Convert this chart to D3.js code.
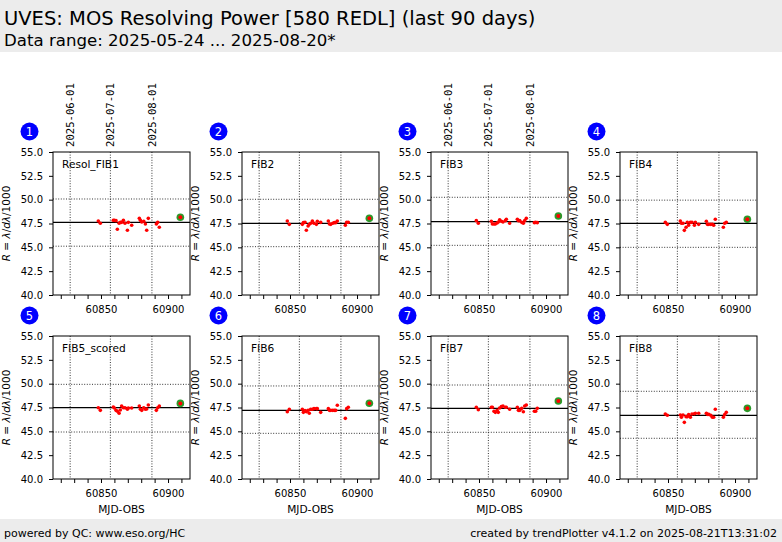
<!DOCTYPE html>
<html>
<head>
<meta charset="utf-8">
<script src="https://cdn.jsdelivr.net/npm/d3@7"></script>
<style>
  html, body { margin: 0; padding: 0; background: #fff; }
  svg { display: block; font-family: "DejaVu Sans", sans-serif; }
</style>
</head>
<body>
<svg id="chart" width="782" height="542"></svg>
<script>
// ---------------- data ----------------
const titleText = "UVES: MOS Resolving Power [580 REDL] (last 90 days)";
const subtitleText = "Data range: 2025-05-24 ... 2025-08-20*";
const footerLeft = "powered by QC: www.eso.org/HC";
const footerRight = "created by trendPlotter v4.1.2 on 2025-08-21T13:31:02";

const panelNames = ["Resol_FIB1", "FIB2", "FIB3", "FIB4", "FIB5_scored", "FIB6", "FIB7", "FIB8"];

const mjdDates = [60848.0, 60849.5, 60859.2, 60860.0, 60861.2, 60862.2, 60863.5, 60864.4,
                  60865.4, 60866.7, 60867.9, 60869.7, 60870.4, 60872.9, 60878.6, 60879.4,
                  60880.4, 60881.9, 60883.1, 60884.1, 60885.3, 60891.3, 60892.3, 60893.5];
const latestDate = 60909.2;

const fib1 = [47.76, 47.52, 47.83, 47.83, 47.80, 46.89, 47.52, 47.62, 47.62, 47.83, 47.52, 46.79,
              47.62, 47.31, 48.04, 47.83, 47.66, 47.73, 47.45, 46.79, 48.04, 47.45, 47.62, 47.10];
const fib2 = [47.76, 47.41, 47.41, 47.59, 47.62, 46.79, 47.24, 47.41, 47.52, 47.76, 47.52, 47.41,
              47.73, 47.62, 47.76, 47.45, 47.41, 47.52, 47.59, 47.59, 47.76, 47.31, 47.62, 47.62];
const fib3 = [47.80, 47.52, 47.73, 47.45, 47.45, 47.45, 47.55, 47.66, 47.90, 47.73, 47.66, 47.80,
              47.94, 47.52, 47.94, 47.80, 47.80, 47.62, 47.52, 47.80, 48.04, 47.59, 47.62, 47.59];
const fib4 = [47.62, 47.41, 47.76, 47.52, 47.52, 46.78, 47.10, 47.62, 47.31, 47.62, 47.62, 47.31,
              47.62, 47.41, 47.73, 47.41, 47.41, 47.41, 47.41, 47.31, 47.94, 47.10, 47.52, 47.62];
const fib5 = [47.48, 47.20, 47.55, 47.45, 47.20, 47.10, 46.89, 47.24, 47.66, 47.48, 47.48, 47.31,
              47.45, 47.45, 47.66, 47.31, 47.20, 47.48, 47.31, 47.35, 47.76, 47.20, 47.48, 47.66];
const fib6 = [47.06, 47.31, 47.31, 46.99, 47.17, 47.06, 47.20, 46.89, 47.31, 47.31, 47.38, 47.38,
              47.38, 46.99, 47.38, 47.20, 47.20, 47.20, 47.20, 47.20, 47.73, 46.36, 47.38, 47.52];
const fib7 = [47.52, 47.27, 47.52, 47.52, 47.10, 46.99, 47.20, 46.99, 47.45, 47.59, 47.66, 47.52,
              47.52, 47.31, 47.52, 47.20, 47.20, 47.41, 47.06, 47.66, 47.76, 47.10, 47.10, 47.41];
const fib8 = [46.82, 46.68, 46.71, 46.47, 46.71, 45.94, 46.54, 46.54, 46.75, 46.47, 46.82, 46.85,
              46.89, 46.89, 46.89, 46.78, 46.78, 46.68, 46.47, 46.47, 47.31, 46.47, 46.75, 46.99];
const seriesValues = [fib1, fib2, fib3, fib4, fib5, fib6, fib7, fib8];

const latestValues = [48.15, 48.04, 48.29, 47.94, 47.93, 47.94, 48.18, 47.41];
const refMid   = [47.62, 47.52, 47.69, 47.52, 47.48, 47.20, 47.41, 46.68];
const refUpper = [50.07, 50.04, 50.25, 49.95, 49.93, 49.76, 49.86, 49.20];
const refLower = [45.12, 45.07, 45.21, 45.00, 44.93, 44.79, 44.90, 44.27];

const yTicks = [40, 42.5, 45, 47.5, 50, 52.5, 55];
const xMinorTicks = [60820, 60830, 60840, 60850, 60860, 60870, 60880, 60890, 60900, 60910];
const xLabelTicks = [60850, 60900];
const dateTickLabels = ["2025-06-01", "2025-07-01", "2025-08-01"];
const xDomain = [60814.2, 60916.4];
const yDomain = [40, 55];

// ---------------- layout ----------------
const svg = d3.select("#chart");
const W = 782, H = 542;
const colLeft = [53, 242, 431, 620];
const rowTop = [152, 336];
const pw = 137, ph = 143;

function toMJD(s) {
  const [y, m, d] = s.split("-").map(Number);
  return (Date.UTC(y, m - 1, d) - Date.UTC(1858, 10, 17)) / 86400000;
}
const dateTicks = dateTickLabels.map(toMJD);

// header
svg.append("rect").attr("x", 0).attr("y", 0).attr("width", W).attr("height", 52).attr("fill", "#ececec");
svg.append("text").attr("x", 4).attr("y", 25).attr("font-size", 19.5).attr("fill", "#000").text(titleText);
svg.append("text").attr("x", 4).attr("y", 46).attr("font-size", 16.6).attr("fill", "#000").text(subtitleText);

// footer
svg.append("rect").attr("x", 0).attr("y", 519).attr("width", W).attr("height", 23).attr("fill", "#ececec");
svg.append("text").attr("x", 4).attr("y", 537).attr("font-size", 11).text(footerLeft);
svg.append("text").attr("x", 777).attr("y", 537).attr("font-size", 11).attr("text-anchor", "end").text(footerRight);

const x = d3.scaleLinear().domain(xDomain).range([0, pw]);
const y = d3.scaleLinear().domain(yDomain).range([ph, 0]);

panelNames.forEach((name, i) => {
  const col = i % 4, row = Math.floor(i / 4);
  const g = svg.append("g").attr("transform", `translate(${colLeft[col]},${rowTop[row]})`);

  const cid = "clip" + i;
  g.append("clipPath").attr("id", cid).append("rect").attr("width", pw).attr("height", ph);
  const plot = g.append("g").attr("clip-path", `url(#${cid})`);

  // vertical date gridlines
  plot.selectAll("line.vg").data(dateTicks).enter().append("line")
    .attr("x1", d => x(d)).attr("x2", d => x(d)).attr("y1", 0).attr("y2", ph)
    .attr("stroke", "#000").attr("stroke-width", 0.8).attr("stroke-dasharray", "1,1.6");

  // reference lines
  [refUpper[i], refLower[i]].forEach(v => {
    plot.append("line").attr("x1", 0).attr("x2", pw).attr("y1", y(v)).attr("y2", y(v))
      .attr("stroke", "#000").attr("stroke-width", 0.8).attr("stroke-dasharray", "1,1.6");
  });
  plot.append("line").attr("x1", 0).attr("x2", pw).attr("y1", y(refMid[i])).attr("y2", y(refMid[i]))
    .attr("stroke", "#000").attr("stroke-width", 1.3);

  // points
  const vals = seriesValues[i];
  plot.selectAll("circle.pt").data(mjdDates.map((d, k) => [d, vals[k]])).enter().append("circle")
    .attr("cx", d => x(d[0])).attr("cy", d => y(d[1])).attr("r", 1.8).attr("fill", "#ff0000");

  // latest point
  plot.append("circle").attr("cx", x(latestDate)).attr("cy", y(latestValues[i])).attr("r", 3.8)
    .attr("fill", "#2a9a2a");
  plot.append("circle").attr("cx", x(latestDate)).attr("cy", y(latestValues[i])).attr("r", 2)
    .attr("fill", "#ff0000");

  // axes
  const ya = d3.axisLeft(y).tickValues(yTicks).tickFormat(d3.format(".1f")).tickSize(4).tickPadding(6);
  const yg = g.append("g").call(ya);
  yg.select(".domain").remove();
  yg.selectAll("text").attr("font-size", 10).attr("font-family", "DejaVu Sans").attr("fill", "#000");

  const xa = d3.axisBottom(x).tickValues(xMinorTicks)
    .tickFormat(d => xLabelTicks.includes(d) ? String(d) : "").tickSize(4).tickPadding(7);
  const xg = g.append("g").attr("transform", `translate(0,${ph})`).call(xa);
  xg.select(".domain").remove();
  xg.selectAll("text").attr("font-size", 10).attr("font-family", "DejaVu Sans").attr("fill", "#000");

  // frame
  g.append("rect").attr("width", pw).attr("height", ph).attr("fill", "none")
    .attr("stroke", "#000").attr("stroke-width", 1);

  // top date labels (panels 1 and 3)
  if (i === 0 || i === 2) {
    g.selectAll("text.dt").data(dateTicks).enter().append("text")
      .attr("transform", d => `translate(${x(d) + 3.8},-5) rotate(-90)`)
      .attr("font-size", 10.6).attr("font-family", "DejaVu Sans Mono").attr("text-anchor", "start")
      .text((d, k) => dateTickLabels[k]);
  }

  // panel name
  g.append("text").attr("x", 9).attr("y", 16).attr("font-size", 10.6).text(name);

  // y label
  const yl = g.append("text").attr("transform", `translate(${-43},${ph / 2}) rotate(-90)`)
    .attr("text-anchor", "middle").attr("font-size", 10.5);
  yl.append("tspan").attr("font-style", "italic").text("R");
  yl.append("tspan").text(" = ");
  yl.append("tspan").attr("font-style", "italic").text("λ");
  yl.append("tspan").text("/");
  yl.append("tspan").attr("font-style", "italic").text("dλ");
  yl.append("tspan").text("/1000");

  // bottom x label
  if (row === 1) {
    g.append("text").attr("x", pw / 2).attr("y", ph + 34).attr("text-anchor", "middle")
      .attr("font-size", 10.6).text("MJD-OBS");
  }

  // panel number circle
  g.append("circle").attr("cx", -23.5).attr("cy", -20.5).attr("r", 9).attr("fill", "#0000ff");
  g.append("text").attr("x", -23.5).attr("y", -16.5).attr("text-anchor", "middle")
    .attr("font-size", 11.5).attr("fill", "#fff").text(String(i + 1));
});
</script>
</body>
</html>
